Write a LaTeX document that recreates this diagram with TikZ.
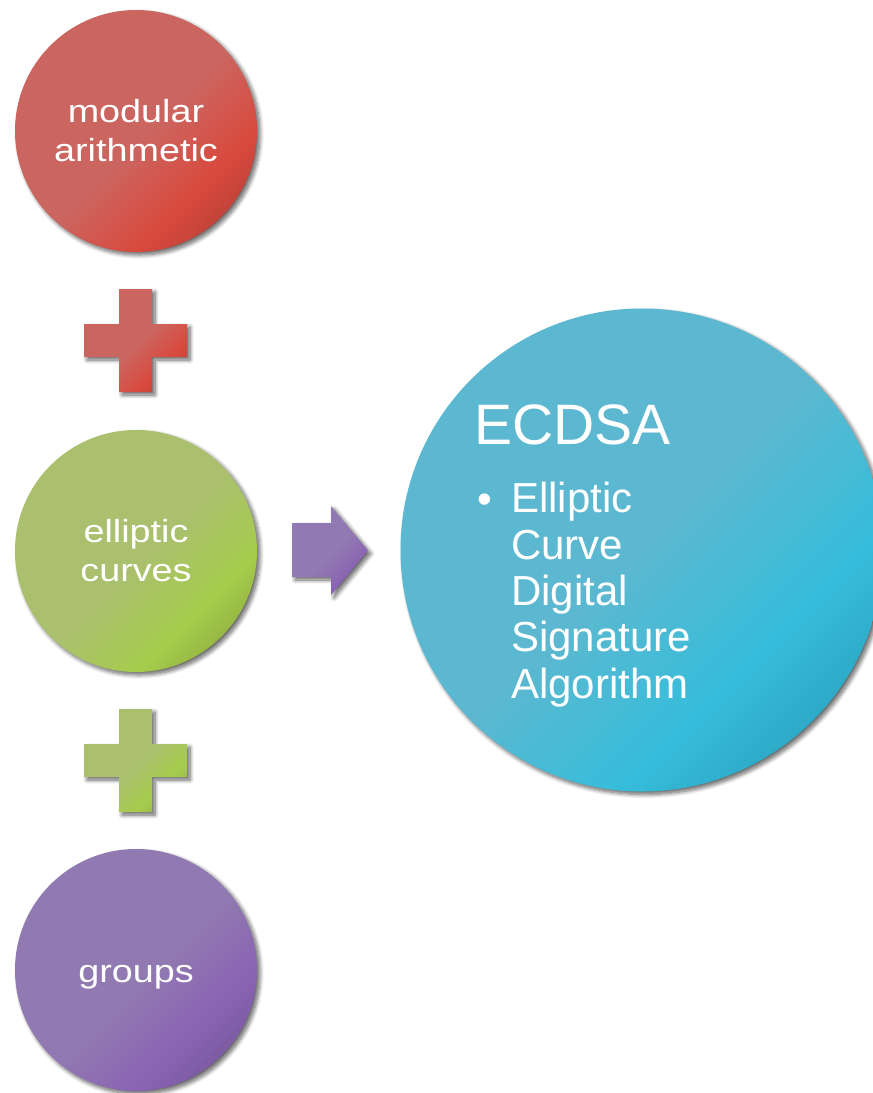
\documentclass[tikz,border=0pt]{standalone}
\usepackage{fontspec}
\setmainfont{Liberation Sans}
\usetikzlibrary{shadows.blur}

% palette: muted / bright / dark tone of each family
\definecolor{redmute}{HTML}{CB6560}
\definecolor{redbright}{HTML}{D9493D}
\definecolor{reddark}{HTML}{C2443A}
\definecolor{greenmute}{HTML}{AAC06E}
\definecolor{greenbright}{HTML}{A6CC4C}
\definecolor{greendark}{HTML}{97B944}
\definecolor{purplemute}{HTML}{917AB1}
\definecolor{purplebright}{HTML}{8A63B3}
\definecolor{purpledark}{HTML}{7C5CA3}
\definecolor{bluemute}{HTML}{5CB8D0}
\definecolor{bluebright}{HTML}{36BDDB}
\definecolor{bluedark}{HTML}{2DAAC8}

\pgfdeclarehorizontalshading{redfill}{100bp}{color(0bp)=(redmute); color(52bp)=(redmute); color(68bp)=(redbright); color(75bp)=(reddark); color(100bp)=(reddark)}
\pgfdeclarehorizontalshading{greenfill}{100bp}{color(0bp)=(greenmute); color(52bp)=(greenmute); color(68bp)=(greenbright); color(75bp)=(greendark); color(100bp)=(greendark)}
\pgfdeclarehorizontalshading{purplefill}{100bp}{color(0bp)=(purplemute); color(52bp)=(purplemute); color(68bp)=(purplebright); color(75bp)=(purpledark); color(100bp)=(purpledark)}
\pgfdeclarehorizontalshading{bluefill}{100bp}{color(0bp)=(bluemute); color(50bp)=(bluemute); color(66bp)=(bluebright); color(75bp)=(bluedark); color(100bp)=(bluedark)}

\newcommand\stretchlabel[1]{\scalebox{1.18}[1]{#1}}

\tikzset{
  softshadow/.style={blur shadow={shadow xshift=3pt, shadow yshift=-3pt,
      shadow blur radius=4pt, shadow blur steps=8, shadow opacity=60}},
  ball/.style={circle, inner sep=0pt, minimum size=242pt, text=white,
      softshadow, shading angle=-45, align=center,
      font=\fontsize{32}{39}\selectfont},
  bigball/.style={circle, inner sep=0pt, minimum size=483pt,
      softshadow, shading angle=-45},
  sign/.style={softshadow, shading angle=-45},
  title/.style={anchor=base west, text=white, inner sep=0pt,
      font=\fontsize{57}{60}\selectfont},
  bullettext/.style={anchor=base west, text=white, inner sep=0pt,
      font=\fontsize{42}{46.3}\selectfont}
}

\begin{document}
\begin{tikzpicture}[x=1pt, y=-1pt]
\useasboundingbox (0,0) rectangle (873,1093);

% the three ingredients
\node[ball, shading=redfill] (modular) at (136,131)
  {\stretchlabel{modular}\\\stretchlabel{arithmetic}};
\node[ball, shading=greenfill] (curves) at (136,551)
  {\stretchlabel{elliptic}\\\stretchlabel{curves}};
\node[ball, shading=purplefill, text depth=0pt] (groups) at (136,970)
  {\raisebox{-7pt}{\stretchlabel{groups}}};

% plus signs between the ingredients
\shade[sign, shading=redfill]
  (119,289) -- (152,289) -- (152,324) -- (187,324) -- (187,357) -- (152,357)
  -- (152,392) -- (119,392) -- (119,357) -- (84,357) -- (84,324) -- (119,324) -- cycle;
\shade[sign, shading=greenfill]
  (119,709) -- (152,709) -- (152,744) -- (187,744) -- (187,777) -- (152,777)
  -- (152,812) -- (119,812) -- (119,777) -- (84,777) -- (84,744) -- (119,744) -- cycle;

% arrow towards the result
\shade[sign, shading=purplefill]
  (292,523) -- (331,523) -- (331,506) -- (368,550.5) -- (331,595)
  -- (331,577) -- (292,577) -- cycle;

% the result
\node[bigball, shading=bluefill] (ecdsa) at (642,550) {};
\node[title] (ecdsatitle) at (474,444) {ECDSA};
\node[bullettext] (bullet) at (477,513) {•};
% multi-line node: its base anchor sits on the last line
\node[bullettext, align=left] (expansion) at (511,698)
  {Elliptic\\Curve\\Digital\\Signature\\Algorithm};
\end{tikzpicture}
\end{document}
